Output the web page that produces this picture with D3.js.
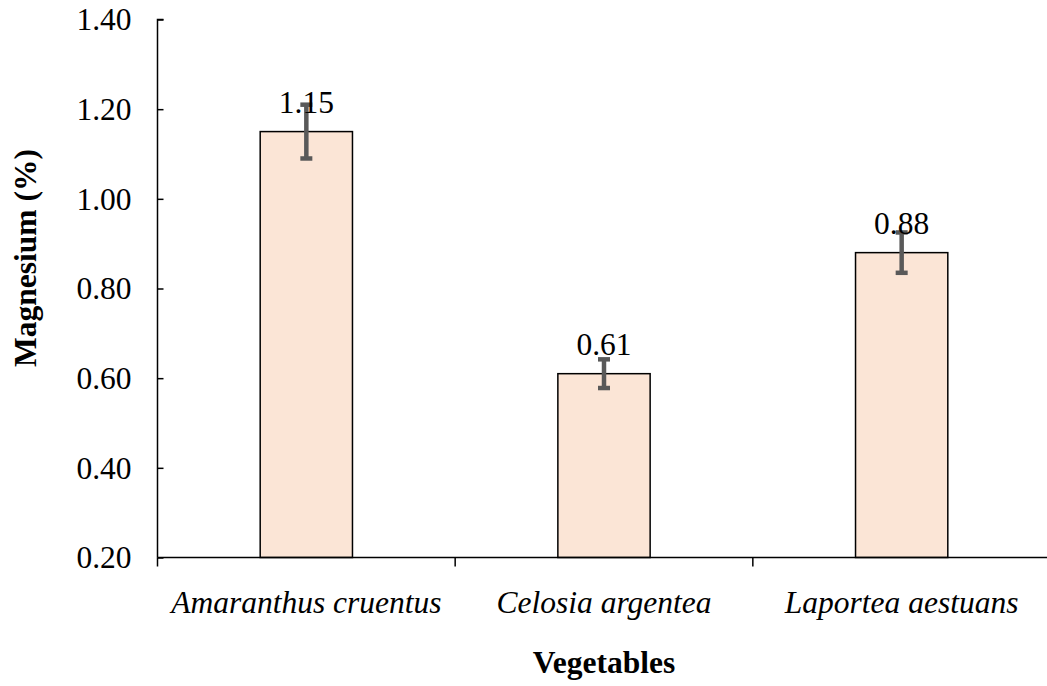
<!DOCTYPE html>
<html>
<head>
<meta charset="utf-8">
<script src="https://cdn.jsdelivr.net/npm/d3@7"></script>
<style>
  html, body { margin: 0; padding: 0; background: #fff; }
  svg { display: block; }
  text { font-family: "Liberation Serif", "Times New Roman", serif; fill: #000; }
</style>
</head>
<body>
<svg id="chart" width="1047" height="686"></svg>
<script>
const categories = ["Amaranthus cruentus", "Celosia argentea", "Laportea aestuans"];
const values = [1.15, 0.61, 0.88];
const errors = [0.06, 0.032, 0.045];
const valueLabels = ["1.15", "0.61", "0.88"];
const yTicks = [0.20, 0.40, 0.60, 0.80, 1.00, 1.20, 1.40];

const FS = 31.5;
const svg = d3.select("#chart");
const mLeft = 157.5, mRight = 1050.5, mTop = 19.5, mBottom = 557.5;

const x = d3.scaleBand().domain(categories).range([mLeft, mRight]).paddingInner(0.69).paddingOuter(0.345);
const xTickScale = d3.scaleBand().domain(categories).range([mLeft, mRight]);
const y = d3.scaleLinear().domain([0.2, 1.4]).range([mBottom, mTop]);

// bars
svg.append("g").selectAll("rect").data(categories).join("rect")
  .attr("x", d => x(d))
  .attr("width", x.bandwidth())
  .attr("y", (d, i) => y(values[i]))
  .attr("height", (d, i) => mBottom - y(values[i]))
  .attr("fill", "#FBE5D6")
  .attr("stroke", "#000")
  .attr("stroke-width", 1.5);

// y axis (ticks inside)
const yAxis = svg.append("g").attr("transform", `translate(${mLeft},0)`)
  .call(d3.axisRight(y).tickValues(yTicks).tickSize(6).tickFormat(""));
yAxis.select(".domain").attr("stroke", "#000").attr("stroke-width", 1.5).attr("d", `M6,${mTop}H0V${mBottom}`);
yAxis.selectAll(".tick line").attr("stroke", "#000").attr("stroke-width", 1.5);

svg.append("g").selectAll("text").data(yTicks).join("text")
  .attr("x", mLeft - 26)
  .attr("y", d => y(d))
  .attr("dy", "0.34em")
  .attr("text-anchor", "end")
  .attr("font-size", FS)
  .text(d => d.toFixed(2));

// x axis (ticks outside at band boundaries)
const xg = svg.append("g").attr("transform", `translate(0,${mBottom})`);
xg.append("line").attr("x1", mLeft).attr("x2", mRight).attr("stroke", "#000").attr("stroke-width", 1.5);
const bounds = [mLeft].concat(categories.map(c => xTickScale(c) + xTickScale.bandwidth()));
xg.selectAll("line.tk").data(bounds).join("line").attr("class", "tk")
  .attr("x1", d => d).attr("x2", d => d).attr("y1", 0).attr("y2", 9)
  .attr("stroke", "#000").attr("stroke-width", 1.5);

svg.append("g").selectAll("text").data(categories).join("text")
  .attr("x", d => xTickScale(d) + xTickScale.bandwidth() / 2)
  .attr("y", 613)
  .attr("text-anchor", "middle")
  .attr("font-size", FS)
  .attr("font-style", "italic")
  .text(d => d);

// error bars
const eb = svg.append("g").attr("stroke", "#595959").attr("stroke-width", 4.5);
categories.forEach((c, i) => {
  const cx = x(c) + x.bandwidth() / 2;
  eb.append("line").attr("x1", cx).attr("x2", cx).attr("y1", y(values[i] + errors[i])).attr("y2", y(values[i] - errors[i]));
  eb.append("line").attr("x1", cx - 6).attr("x2", cx + 6).attr("y1", y(values[i] + errors[i])).attr("y2", y(values[i] + errors[i]));
  eb.append("line").attr("x1", cx - 6).attr("x2", cx + 6).attr("y1", y(values[i] - errors[i])).attr("y2", y(values[i] - errors[i]));
});

// value labels
svg.append("g").selectAll("text").data(categories).join("text")
  .attr("x", d => x(d) + x.bandwidth() / 2)
  .attr("y", (d, i) => y(values[i]) - 19)
  .attr("text-anchor", "middle")
  .attr("font-size", FS)
  .text((d, i) => valueLabels[i]);

// axis titles
svg.append("text")
  .attr("x", 604).attr("y", 673)
  .attr("text-anchor", "middle")
  .attr("font-size", FS).attr("font-weight", "bold")
  .text("Vegetables");

svg.append("text")
  .attr("transform", `translate(36,258) rotate(-90)`)
  .attr("text-anchor", "middle")
  .attr("font-size", FS).attr("font-weight", "bold")
  .text("Magnesium (%)");
</script>
</body>
</html>
